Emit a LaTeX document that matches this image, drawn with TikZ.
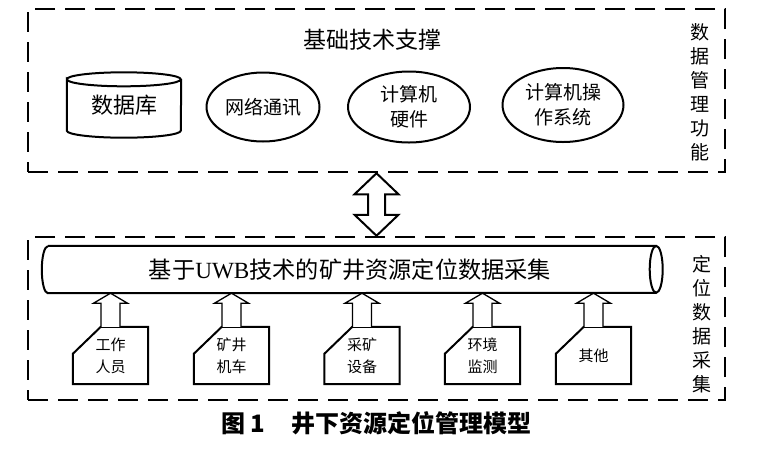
\documentclass[tikz,border=0pt]{standalone}
\usepackage{fontspec}
\setmainfont{Liberation Serif}
\newfontfamily\cjk{Noto Sans CJK SC}
\usetikzlibrary{shapes.geometric,calc}

\tikzset{
  frame/.style={draw, line width=2.5pt, dash pattern=on 20pt off 10pt,
    minimum width=697pt, minimum height=163pt},
  tech/.style={draw, ellipse, line width=2pt, align=center, inner sep=0pt,
    font=\cjk\fontsize{19}{25}\selectfont},
  source/.style={minimum width=75pt, minimum height=57pt, align=center, inner sep=0pt,
    font=\cjk\fontsize{15}{22}\selectfont},
  sidetext/.style={align=center, inner sep=0pt, font=\cjk\fontsize{19}{24}\selectfont},
  outline/.style={line width=2pt, line join=miter},
  liftline/.style={line width=1.3pt, fill=white},
}

% box with the upper left corner cut off
\newcommand\sourcebox[1]{%
  \draw[outline] ([yshift=-27pt]#1.north west) -- ([xshift=28pt]#1.north west)
    -- (#1.north east) -- (#1.south east) -- (#1.south west) -- cycle;}
% hollow arrow from a box up to the pipe
\newcommand\liftarrow[2]{%
  \draw[liftline] let \p1=(#1.north), \p2=(#2.south) in
    (\x1-9.5pt,\y1) -- (\x1-9.5pt,\y2-10pt) -- (\x1-17pt,\y2-10pt) -- (\x1,\y2)
    -- (\x1+17pt,\y2-10pt) -- (\x1+9.5pt,\y2-10pt) -- (\x1+9.5pt,\y1);}

\begin{document}
\begin{tikzpicture}[x=1pt,y=-1pt]
\useasboundingbox (0,0) rectangle (778,456);

% Frames
\node[frame] (mgmt) at (376.5,90.5) {};
\node[frame] (acq) at (376.5,318.5) {};
\node[font=\cjk\fontsize{23}{23}\selectfont] (base) at (372,40) {基础技术支撑};
\node[sidetext] (mgmtlabel) at (700,92) {数\\据\\管\\理\\功\\能};
\node[sidetext] (acqlabel) at (702,324) {定\\位\\数\\据\\采\\集};

% Supporting technologies
\node[minimum width=114pt, minimum height=51pt, inner sep=0pt,
  font=\cjk\fontsize{22}{22}\selectfont] (db) at (124,105) {数据库};
\draw[outline] (db.north west)
  arc[start angle=180, end angle=0, x radius=57pt, y radius=7pt]
  arc[start angle=0, end angle=-180, x radius=57pt, y radius=7pt]
  -- (db.south west)
  arc[start angle=180, end angle=360, x radius=57pt, y radius=7pt]
  -- (db.north east);
\node[tech, minimum width=113pt, minimum height=69pt] (net) at (263,107) {网络通讯};
\node[tech, minimum width=122pt, minimum height=71pt] (hw) at (409,107) {计算机\\硬件};
\node[tech, minimum width=121pt, minimum height=74pt] (os) at (563,105) {计算机操\\作系统};

% Data acquisition
\node[minimum width=608pt, minimum height=47pt, inner sep=0pt,
  font=\cjk\fontsize{23.2}{23.2}\selectfont]
  (pipe) at (350,269.5) {基于{\rmfamily UWB}技术的矿井资源定位数据采集};
\draw[outline] ([xshift=2pt]pipe.north west) -- ([xshift=2pt]pipe.north east)
  arc[start angle=90, end angle=-90, x radius=6.5pt, y radius=23.5pt]
  -- ([xshift=2pt]pipe.south west)
  arc[start angle=270, end angle=90, x radius=6pt, y radius=23.5pt];
\draw[outline] ([xshift=2pt]pipe.north east)
  arc[start angle=90, end angle=270, x radius=6.5pt, y radius=23.5pt];
\foreach \name/\cx/\txt in {staff/110.5/{工作\\人员}, loco/231.5/{矿井\\机车},
    equip/362/{采矿\\设备}, env/482.5/{环境\\监测}, other/593.5/{其他}} {
  \node[source] (\name) at (\cx,355.5) {\txt};
  \sourcebox{\name}
  \liftarrow{\name}{pipe}
}

% Exchange between the two layers
\draw[outline, fill=white] let \p1=(mgmt.south), \p2=(acq.north) in
  (\x1,\y1) -- (\x1+22pt,\y1-21pt) -- (\x1+8.5pt,\y1-21pt) -- (\x1+8.5pt,\y2+21pt)
  -- (\x1+22pt,\y2+21pt) -- (\x1,\y2) -- (\x1-22pt,\y2+21pt) -- (\x1-8.5pt,\y2+21pt)
  -- (\x1-8.5pt,\y1-21pt) -- (\x1-22pt,\y1-21pt) -- cycle;

\node[font=\cjk\bfseries\fontsize{24}{24}\selectfont] (caption) at (376.5,423)
  {图 1\hspace{1.1em}井下资源定位管理模型};
\end{tikzpicture}
\end{document}
